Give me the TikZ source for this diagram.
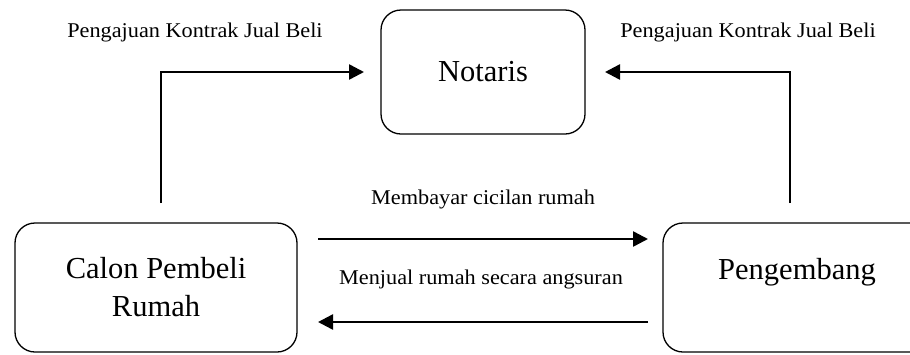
\documentclass[tikz,border=0pt]{standalone}
\usepackage{fontspec}
\setmainfont{Liberation Serif}
\usetikzlibrary{arrows.meta}
\begin{document}
\begin{tikzpicture}[x=1pt,y=-1pt,
  box/.style={draw, rounded corners=20pt, line width=1.3pt, align=center, inner sep=0pt, font=\fontsize{30.5}{38}\selectfont},
  lbl/.style={inner sep=0pt, font=\fontsize{21}{24}\selectfont, xscale=1.06},
  conn/.style={line width=2.5pt, -{Triangle[length=15pt,width=15pt]}}]
\useasboundingbox (0,0) rectangle (910,354);
\node[box, minimum width=204pt, minimum height=124pt] (not) at (483,72) {Notaris};
\node[box, minimum width=282pt, minimum height=129pt] (cal) at (156,287.5) {Calon Pembeli\\Rumah};
\node[box, minimum width=268pt, minimum height=129pt] (pen) at (797,287.5) {Pengembang\\\phantom{R}};
\coordinate (ls) at (161,203);
\coordinate (lt) at (364,72);
\coordinate (rs) at (790,203);
\coordinate (rt) at (605,72);
\coordinate (ms1) at (318,239);
\coordinate (mt1) at (648,239);
\coordinate (ms2) at (648,322);
\coordinate (mt2) at (318,322);
\draw[conn] (ls) |- (lt);
\draw[conn] (rs) |- (rt);
\draw[conn] (ms1) -- (mt1);
\draw[conn] (ms2) -- (mt2);
\node[lbl] (l1) at (195,32) {Pengajuan Kontrak Jual Beli};
\node[lbl] (l2) at (748,32) {Pengajuan Kontrak Jual Beli};
\node[lbl] (l3) at (483,199) {Membayar cicilan rumah};
\node[lbl] (l4) at (481,279) {Menjual rumah secara angsuran};
\end{tikzpicture}
\end{document}
